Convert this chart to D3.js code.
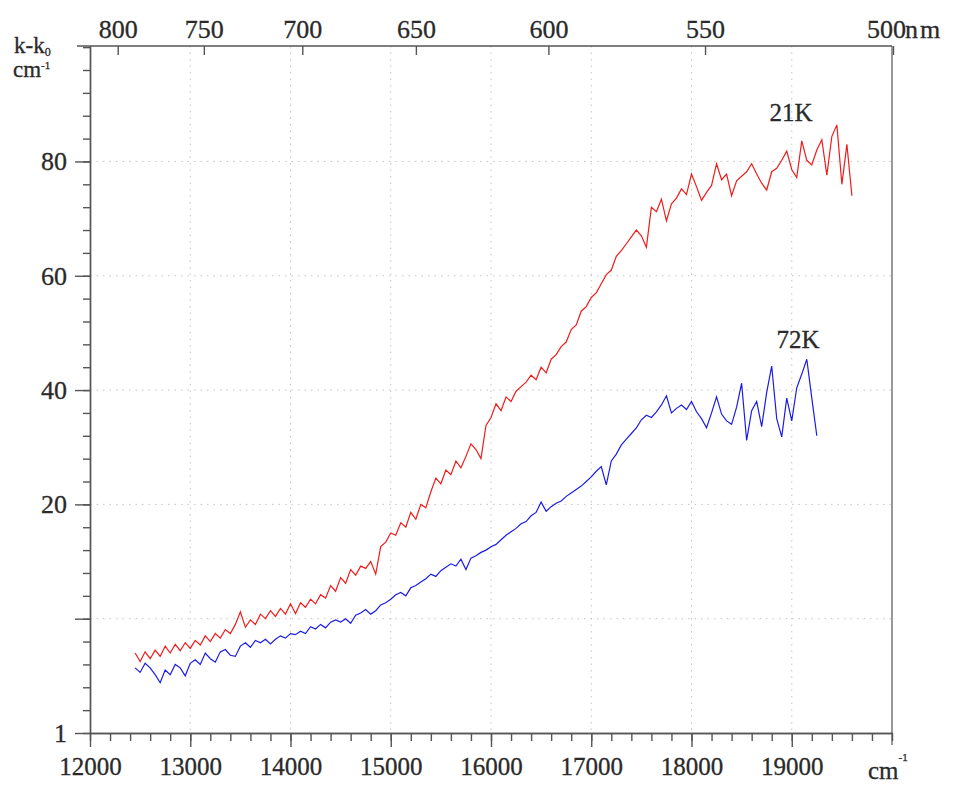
<html>
<head>
<script src="https://d3js.org/d3.v7.min.js"></script>
<style>
  body { margin: 0; background: white; }
  text { font-family: "Liberation Serif", "DejaVu Serif", serif; fill: #2a2a2a; stroke: #2a2a2a; stroke-width: 0.3; }
  .grid line { stroke: #c4c4c4; stroke-dasharray: 1.5,5; }
  .axis path, .axis line { stroke: #555; stroke-width: 1.4; }
</style>
</head>
<body>
<svg width="955" height="786"></svg>
<script>
// wavenumber grid (cm-1) for both scans
var redStart = 12450, blueStart = 12450, step = 50;

// 21K spectrum, k-k0 in cm-1
var red21K = [
  -6.0,-7.5,-5.8,-7.0,-5.5,-6.6,-4.8,-6.0,-4.5,-5.6,
  -4.2,-5.2,-3.8,-4.6,-3.0,-4.0,-2.6,-3.4,-1.9,-2.6,
  -1.0,1.2,-1.5,-0.2,-1.0,0.8,0.0,1.4,0.4,1.8,
  0.8,2.6,0.9,2.8,2.0,3.4,2.6,4.2,3.6,5.8,
  4.8,7.2,6.2,8.6,7.6,9.2,8.8,10.0,7.8,12.6,
  13.4,15.0,14.6,16.8,16.0,18.6,17.4,20.0,19.4,22.2,
  24.6,23.6,26.0,25.2,27.6,26.4,28.4,30.6,29.6,28.0,
  33.8,35.2,37.6,36.4,38.8,38.0,39.8,40.6,41.4,42.6,
  41.8,44.0,43.0,45.4,46.2,47.6,48.4,50.6,51.4,53.8,
  54.6,56.2,57.0,58.6,60.2,61.0,63.4,64.4,65.6,66.8,
  68.0,67.0,65.0,72.0,71.2,73.4,69.6,72.6,73.6,75.2,
  74.2,77.8,75.6,73.2,74.6,75.8,79.6,76.8,77.8,74.0,
  76.6,77.4,78.2,79.6,77.8,76.2,75.0,78.2,78.8,80.2,
  81.8,78.6,77.2,83.6,80.2,79.4,82.0,83.8,77.6,84.4,
  86.4,76.0,83.0,74.0
];

// 72K spectrum
var blue72K = [
  -8.6,-9.4,-7.8,-8.6,-9.8,-11.2,-9.0,-9.8,-8.0,-8.6,
  -10.0,-7.8,-7.2,-8.0,-6.0,-7.0,-7.6,-5.8,-5.4,-6.4,
  -6.6,-4.8,-4.2,-5.0,-3.8,-4.2,-3.6,-4.4,-3.6,-3.0,
  -3.4,-2.6,-2.8,-2.2,-2.6,-1.4,-1.8,-1.0,-1.6,-0.6,
  -0.2,-0.6,0.0,-0.8,0.6,1.0,1.6,0.8,1.4,2.4,
  2.8,3.4,4.2,4.6,4.0,5.4,5.8,6.4,7.0,7.8,
  7.4,8.4,9.0,9.6,9.2,10.4,8.6,10.6,11.0,11.6,
  12.0,12.6,13.0,13.8,14.6,15.2,15.8,16.6,17.0,18.0,
  18.6,20.4,18.8,19.6,20.2,20.6,21.4,22.0,22.6,23.2,
  24.0,24.8,25.8,26.6,23.4,27.6,28.8,30.4,31.4,32.4,
  33.4,34.8,35.6,35.2,36.2,37.4,39.0,36.0,36.8,37.4,
  36.6,38.0,36.2,35.0,33.4,36.0,38.8,35.8,34.6,34.0,
  37.0,41.2,31.2,36.4,38.0,33.6,39.6,44.2,35.0,31.8,
  38.6,34.6,40.4,42.8,45.4,38.6,32.0
];

var xMajor = [12000,13000,14000,15000,16000,17000,18000,19000];
var yMajor = [-20, 0, 20, 40, 60, 80];
var yLabels = ["1", "", "20", "40", "60", "80"];
var yGrid = [0, 20, 40, 60, 80];
var xGrid = [13000,14000,15000,16000,17000,18000,19000];
var nmTicks = [800, 750, 700, 650, 600, 550, 500];

var padL = 90, padR = 892, padT = 46, padB = 733;
var svg = d3.select("svg");

var x = d3.scaleLinear().domain([12000, 20000]).range([padL, padR]);
var y = d3.scaleLinear().domain([-20, 100.2]).range([padB, padT]);
// the nm scale on top is drawn slightly stretched in the original
var xTop = d3.scaleLinear().domain([12000, 20000]).range([66, 893]);

// grid
var g = svg.append("g").attr("class", "grid");
g.selectAll(".v").data(xGrid).enter().append("line")
  .attr("x1", d => x(d)).attr("x2", d => x(d)).attr("y1", padT).attr("y2", padB);
g.selectAll(".h").data(yGrid).enter().append("line")
  .attr("x1", padL).attr("x2", padR).attr("y1", d => y(d)).attr("y2", d => y(d));

// right frame
svg.append("line").attr("x1", padR).attr("x2", padR).attr("y1", padT).attr("y2", padB + 12)
  .style("stroke", "#999").style("stroke-width", 2);
// top line
svg.append("line").attr("x1", 77).attr("x2", padR).attr("y1", padT).attr("y2", padT)
  .style("stroke", "#555").style("stroke-width", 1.4);

// bottom axis
var xMinor = d3.range(12000, 20001, 200);
svg.append("g").attr("class", "axis").attr("transform", "translate(0," + padB + ")")
  .call(d3.axisBottom(x).tickValues(xMinor).tickSize(8).tickSizeOuter(0).tickFormat(""));
svg.append("g").attr("class", "axis").attr("transform", "translate(0," + padB + ")")
  .call(d3.axisBottom(x).tickValues(xMajor).tickSize(14).tickSizeOuter(0).tickPadding(10).tickFormat(d3.format("d")))
  .selectAll("text").style("font-size", "25px").attr("fill", null);

// left axis
var yMinor = d3.range(-20, 100.1, 4);
svg.append("g").attr("class", "axis").attr("transform", "translate(" + padL + ",0)")
  .call(d3.axisLeft(y).tickValues(yMinor).tickSize(7).tickSizeOuter(0).tickFormat(""));
svg.append("g").attr("class", "axis").attr("transform", "translate(" + padL + ",0)")
  .call(d3.axisLeft(y).tickValues(yMajor).tickSize(15).tickSizeOuter(0).tickPadding(8)
    .tickFormat((d, i) => yLabels[i]))
  .selectAll("text").style("font-size", "26px").attr("fill", null);

// top nm axis
var topAxis = svg.append("g").attr("class", "axis").attr("transform", "translate(0," + padT + ")")
  .call(d3.axisTop(xTop).tickValues(nmTicks.map(n => 1e7 / n)).tickSize(-9).tickSizeOuter(0).tickPadding(8)
    .tickFormat((d, i) => nmTicks[i]));
topAxis.select(".domain").remove();
topAxis.selectAll("text").style("font-size", "26px").attr("fill", null)
  .attr("dx", (d, i) => i === nmTicks.length - 1 ? -7 : 0);
svg.append("text").attr("x", xTop(20000) + 12).attr("y", 38).style("font-size", "26px")
  .style("letter-spacing", "2px").text("nm");

// curves
var line = d3.line().x(d => x(d[0])).y(d => y(d[1]));
var redPts = red21K.map((v, i) => [redStart + i * step, v]);
var bluePts = blue72K.map((v, i) => [blueStart + i * step, v]);
svg.append("path").datum(redPts).attr("d", line)
  .style("fill", "none").style("stroke", "#f01c1c").style("stroke-width", 1.2);
svg.append("path").datum(bluePts).attr("d", line)
  .style("fill", "none").style("stroke", "#1c1ce8").style("stroke-width", 1.2);

// labels
svg.append("text").attr("x", 791).attr("y", 121).attr("text-anchor", "middle").style("font-size", "25px").text("21K");
svg.append("text").attr("x", 798).attr("y", 348).attr("text-anchor", "middle").style("font-size", "25px").text("72K");

var yl = svg.append("text").attr("x", 14).attr("y", 53).style("font-size", "23px");
yl.append("tspan").text("k-k");
yl.append("tspan").attr("dy", 3).style("font-size", "12px").text("0");
var yu = svg.append("text").attr("x", 13).attr("y", 77).style("font-size", "23px");
yu.append("tspan").text("cm");
yu.append("tspan").attr("dy", -8).style("font-size", "11px").text("-1");

var xu = svg.append("text").attr("x", 868).attr("y", 779).style("font-size", "25px");
xu.append("tspan").text("cm");
xu.append("tspan").attr("dy", -18).style("font-size", "11px").text("-1");
</script>
</body>
</html>
